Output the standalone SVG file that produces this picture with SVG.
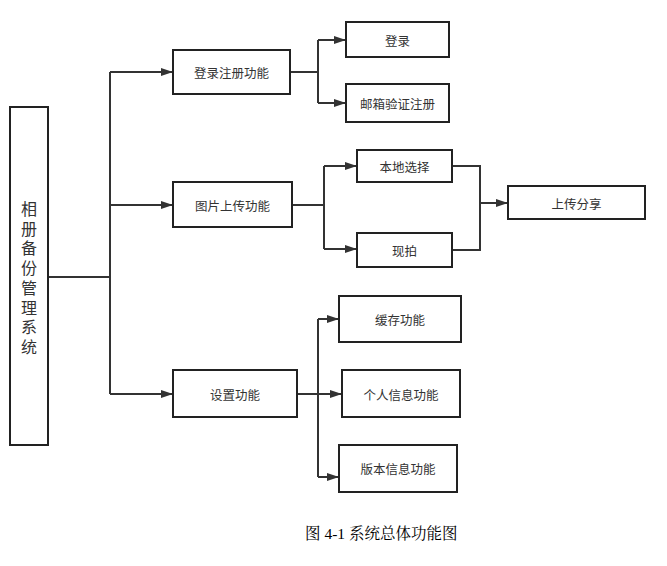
<svg xmlns="http://www.w3.org/2000/svg" width="667" height="566" viewBox="0 0 667 566">
<style>
.box{fill:#fff;stroke:#222;stroke-width:2}
.lbl{font-family:"Noto Sans CJK SC","Noto Sans",sans-serif;font-size:12.5px;fill:#333;text-anchor:middle;dominant-baseline:central}
.main{font-family:"Noto Sans CJK SC","Noto Sans",sans-serif;font-size:16px;fill:#333}
.ln{fill:none;stroke:#333;stroke-width:2}
.cap{font-family:"Liberation Serif","Noto Serif CJK SC","Noto Sans CJK SC",serif;font-size:15.5px;fill:#000}
</style>
<defs>
<marker id="ah" markerWidth="12" markerHeight="8" refX="12" refY="4" orient="auto" markerUnits="userSpaceOnUse">
<path d="M0,0 L12,4 L0,8 Z" fill="#333"/>
</marker>
</defs>
<rect width="667" height="566" fill="#fff"/>
<g id="connectors">
<path class="ln" d="M48,277 H110 M110,72 V394"/>
<path class="ln" d="M110,72 H173" marker-end="url(#ah)"/>
<path class="ln" d="M110,205 H173" marker-end="url(#ah)"/>
<path class="ln" d="M110,394 H173" marker-end="url(#ah)"/>
<path class="ln" d="M290,72 H318 M318,40 V103"/>
<path class="ln" d="M318,40 H346" marker-end="url(#ah)"/>
<path class="ln" d="M318,103 H346" marker-end="url(#ah)"/>
<path class="ln" d="M292,205 H324 M324,166 V249"/>
<path class="ln" d="M324,166 H357" marker-end="url(#ah)"/>
<path class="ln" d="M324,249 H357" marker-end="url(#ah)"/>
<path class="ln" d="M452,166 H480 V250 H452"/>
<path class="ln" d="M480,203 H508" marker-end="url(#ah)"/>
<path class="ln" d="M297,394 H318 M318,319 V477"/>
<path class="ln" d="M318,319 H339" marker-end="url(#ah)"/>
<path class="ln" d="M318,394 H342" marker-end="url(#ah)"/>
<path class="ln" d="M318,477 H339" marker-end="url(#ah)"/>
</g>
<g id="main">
<rect class="box" x="10" y="107" width="38" height="338"/>
<text class="main" x="29" y="209" writing-mode="vertical-rl" style="writing-mode:vertical-rl;letter-spacing:3.7px" text-anchor="start" dy="-8">相册备份管理系统</text>
</g>
<g id="login"><rect class="box" x="173" y="50" width="117" height="44"/><text class="lbl" x="231.5" y="72">登录注册功能</text></g>
<g id="upload"><rect class="box" x="173" y="182" width="119" height="45"/><text class="lbl" x="232.5" y="205">图片上传功能</text></g>
<g id="settings"><rect class="box" x="173" y="370" width="124" height="47"/><text class="lbl" x="235" y="394">设置功能</text></g>
<g id="signin"><rect class="box" x="346" y="22" width="103" height="35"/><text class="lbl" x="397.5" y="40">登录</text></g>
<g id="register"><rect class="box" x="346" y="84" width="103" height="38"/><text class="lbl" x="397.5" y="103">邮箱验证注册</text></g>
<g id="local"><rect class="box" x="357" y="150" width="95" height="32"/><text class="lbl" x="404.5" y="166">本地选择</text></g>
<g id="shoot"><rect class="box" x="357" y="233" width="95" height="34"/><text class="lbl" x="404.5" y="250">现拍</text></g>
<g id="share"><rect class="box" x="508" y="186" width="137" height="33"/><text class="lbl" x="576.5" y="203">上传分享</text></g>
<g id="cache"><rect class="box" x="339" y="296" width="122" height="46"/><text class="lbl" x="400" y="319">缓存功能</text></g>
<g id="profile"><rect class="box" x="342" y="370" width="118" height="47"/><text class="lbl" x="401" y="394">个人信息功能</text></g>
<g id="version"><rect class="box" x="339" y="445" width="118" height="47"/><text class="lbl" x="398" y="468">版本信息功能</text></g>
<text class="cap" x="305" y="539">图 4-1 系统总体功能图</text>
</svg>
